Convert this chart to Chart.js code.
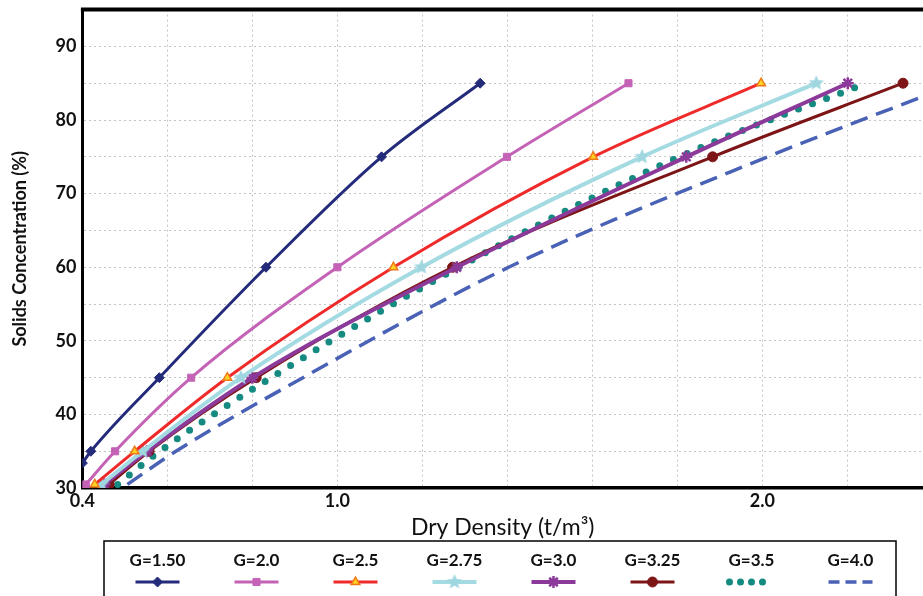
<!DOCTYPE html>
<html>
<head>
<meta charset="utf-8">
<script src="https://cdn.jsdelivr.net/npm/chart.js@4.4.1/dist/chart.umd.min.js"></script>
<style>
  html, body { margin: 0; padding: 0; background: #fff; overflow: hidden; }
  #wrap { position: relative; width: 923px; height: 596px; }
</style>
</head>
<body>
<div id="wrap"><canvas id="densityChart" width="923" height="596"></canvas></div>
<script>
// solids concentration (%) at each plotted point
const concentration = [30.5, 35, 45, 60, 75, 85];
const concentrationG150 = [33.4, 35, 45, 60, 75, 85];

// dry density (t/m3) for each specific gravity
const densG150 = [0.400, 0.420, 0.581, 0.832, 1.104, 1.336];
const densG20 = [0.408, 0.477, 0.656, 1.000, 1.399, 1.685];
const densG25 = [0.429, 0.523, 0.741, 1.132, 1.602, 1.997];
const densG275 = [0.445, 0.542, 0.773, 1.198, 1.717, 2.127];
const densG30 = [0.452, 0.552, 0.800, 1.281, 1.821, 2.201];
const densG325 = [0.463, 0.557, 0.809, 1.271, 1.883, 2.331];
const densG35 = [0.483, 0.582, 0.844, 1.285, 1.805, 2.244];
const densG40 = [0.506, 0.620, 0.919, 1.403, 2.012, 2.460];

const seriesLabels = ["G=1.50", "G=2.0", "G=2.5", "G=2.75", "G=3.0", "G=3.25", "G=3.5", "G=4.0"];
const xTickValues = [0.4, 0.6, 0.8, 1.0, 1.2, 1.4, 1.6, 1.8, 2.0, 2.2];
const xTickLabels = ["0.4", "1.0", "2.0"];

Chart.defaults.font.family = 'Lato, "Open Sans", sans-serif';
Chart.defaults.color = "#111";

function toPoints(xs, ys) {
  return xs.map((x, i) => ({ x: x, y: ys[i] }));
}

// filled five point star used as marker
function makeStar(color, r) {
  const c = document.createElement("canvas");
  c.width = c.height = r * 2 + 2;
  const g = c.getContext("2d");
  g.beginPath();
  for (let i = 0; i < 10; i++) {
    const rad = i % 2 ? r * 0.45 : r;
    const a = -Math.PI / 2 + (i * Math.PI) / 5;
    g.lineTo(r + 1 + rad * Math.cos(a), r + 1 + rad * Math.sin(a));
  }
  g.closePath();
  g.fillStyle = color;
  g.fill();
  return c;
}

const lightStar = makeStar("#9fd6e0", 8);

function series(label, xs, ys, color, extra) {
  return Object.assign({
    label: label,
    data: toPoints(xs, ys),
    borderColor: color,
    backgroundColor: color,
    borderWidth: 3,
    pointRadius: 5,
    pointHoverRadius: 5,
    pointBackgroundColor: color,
    pointBorderColor: color,
    pointBorderWidth: 1,
    cubicInterpolationMode: "monotone",
    fill: false,
  }, extra || {});
}

const datasets = [
  series(seriesLabels[0], densG150, concentrationG150, "#232b7a", { pointStyle: "rectRot", pointRadius: 5 }),
  series(seriesLabels[1], densG20, concentration, "#c462b6", { pointStyle: "rect", pointRadius: 5 }),
  series(seriesLabels[2], densG25, concentration, "#ee2a2a", {
    pointStyle: "triangle", pointRadius: 5,
    pointBackgroundColor: "#ffd324", pointBorderColor: "#f07a18", pointBorderWidth: 1.5,
  }),
  series(seriesLabels[3], densG275, concentration, "#a4dbe2", { pointStyle: lightStar, borderWidth: 4 }),
  series(seriesLabels[4], densG30, concentration, "#8c3a9a", {
    pointStyle: "star", pointRadius: 6, pointBorderWidth: 2.5, borderWidth: 4,
  }),
  series(seriesLabels[5], densG325, concentration, "#7d1517", { pointStyle: "circle", pointRadius: 5 }),
  series(seriesLabels[6], densG35, concentration, "#148a80", {
    pointRadius: 0, borderWidth: 7, borderDash: [0, 15], borderCapStyle: "round",
    legendDash: [0, 11],
  }),
  series(seriesLabels[7], densG40, concentration, "#4a62b5", {
    pointRadius: 0, borderWidth: 3.5, borderDash: [18, 9], legendDash: [11, 6],
  }),
];

// thick top frame line of the plot area
const topFrame = {
  id: "topFrame",
  afterDraw(chart) {
    const { ctx, chartArea } = chart;
    ctx.save();
    ctx.strokeStyle = "#000";
    ctx.lineWidth = 4;
    ctx.beginPath();
    ctx.moveTo(chartArea.left - 1.5, chartArea.top);
    ctx.lineTo(chartArea.right, chartArea.top);
    ctx.stroke();
    ctx.restore();
  },
};

// boxed legend below the x axis title, line sample under each label
const legendBox = {
  id: "legendBox",
  afterDraw(chart) {
    const ctx = chart.ctx;
    const left = 104, right = 896, top = 541, bottom = 600;
    ctx.save();
    ctx.strokeStyle = "#000";
    ctx.lineWidth = 1.5;
    ctx.strokeRect(left, top, right - left, bottom - top);
    const sets = chart.data.datasets;
    const cell = (right - left) / sets.length;
    sets.forEach((ds, i) => {
      const cx = left + cell * (i + 0.5) + 4;
      ctx.fillStyle = "#111";
      ctx.font = "bold 17px Lato, sans-serif";
      ctx.textAlign = "center";
      ctx.textBaseline = "middle";
      ctx.fillText(ds.label, cx, 561);

      const y = 582;
      ctx.strokeStyle = ds.borderColor;
      ctx.lineWidth = ds.borderWidth;
      ctx.setLineDash(ds.legendDash || []);
      ctx.lineCap = ds.borderCapStyle || "butt";
      ctx.beginPath();
      ctx.moveTo(cx - 22, y);
      ctx.lineTo(cx + 22, y);
      ctx.stroke();
      ctx.setLineDash([]);
      ctx.lineCap = "butt";
      if (ds.pointRadius > 0) {
        ctx.fillStyle = ds.pointBackgroundColor;
        ctx.strokeStyle = ds.pointBorderColor;
        ctx.lineWidth = ds.pointBorderWidth;
        Chart.helpers.drawPoint(ctx, {
          pointStyle: ds.pointStyle,
          radius: ds.pointRadius,
          rotation: 0,
          borderWidth: ds.pointBorderWidth,
        }, cx, y);
      }
    });
    ctx.restore();
  },
};

new Chart(document.getElementById("densityChart"), {
  type: "line",
  data: { datasets: datasets },
  plugins: [topFrame, legendBox],
  options: {
    responsive: false,
    animation: false,
    layout: { autoPadding: false, padding: { left: 9, right: 0, top: 4, bottom: 56 } },
    plugins: {
      legend: { display: false },
      tooltip: { enabled: false },
    },
    scales: {
      x: {
        type: "linear",
        min: 0.4,
        max: 2.378,
        afterBuildTicks(axis) {
          axis.ticks = xTickValues.map((v) => ({ value: v }));
        },
        ticks: {
          autoSkip: false,
          maxRotation: 0,
          padding: 7,
          font: { size: 18, weight: "bold", lineHeight: 0.7 },
          callback(v) {
            const s = v.toFixed(1);
            return xTickLabels.includes(s) ? s : "";
          },
        },
        grid: { color: "#c4c4c4", lineWidth: 1, drawTicks: false },
        border: { display: true, color: "#000", width: 3.5, dash: [2, 3] },
        title: {
          display: true,
          text: "Dry Density (t/m\u00b3)",
          font: { size: 23, lineHeight: 1.1 },
          padding: { top: 0, bottom: 0 },
        },
      },
      y: {
        min: 30,
        max: 95,
        ticks: {
          stepSize: 5,
          padding: 6,
          font: { size: 18, weight: "bold", lineHeight: 0.4 },
          callback(v) {
            return v % 10 === 0 ? String(v) : "";
          },
        },
        grid: { color: "#c4c4c4", lineWidth: 1, drawTicks: false },
        border: { display: true, color: "#000", width: 3, dash: [2, 3] },
        title: {
          display: true,
          text: "Solids Concentration (%)",
          font: { size: 18, weight: "bold", lineHeight: 1.25 },
          padding: { top: 0, bottom: 18 },
        },
      },
    },
  },
});
</script>
</body>
</html>
